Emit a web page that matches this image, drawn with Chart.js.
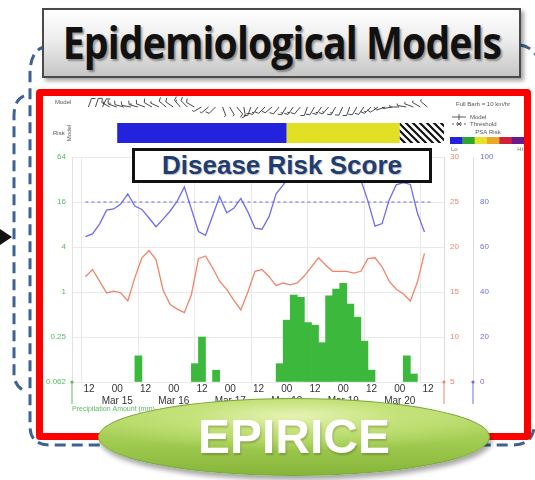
<!DOCTYPE html>
<html>
<head>
<meta charset="utf-8">
<script src="https://cdn.jsdelivr.net/npm/chart.js@4.4.1/dist/chart.umd.min.js"></script>
<style>
  body { margin: 0; width: 535px; height: 480px; position: relative; overflow: hidden; background: #fff; font-family: "Liberation Sans", Arial, sans-serif; }
  #outline { position: absolute; left: 0; top: 0; }
  #title {
    position: absolute; left: 42px; top: 8px; width: 479px; height: 70px; box-sizing: border-box;
    border: 2px solid #4a4a4a; background: linear-gradient(#ffffff, #ededed 45%, #c6c6c6);
    box-shadow: 3px 3px 4px rgba(0,0,0,.35);
    white-space: nowrap;
  }
  #title span {
    position: absolute; left: 50%; top: 0; transform: translateX(-50%) scaleX(0.89);
    font: 700 44px "Open Sans", sans-serif; letter-spacing: -1px; color: #111;
    line-height: 64px; text-shadow: 2px 2px 2px rgba(0,0,0,.35);
  }
  #panel {
    position: absolute; left: 36px; top: 89px; width: 495px; height: 351px; box-sizing: border-box;
    border: 7px solid #ff0000; border-radius: 4px; background: #fff;
  }
  #chart { position: absolute; left: 43px; top: 96px; }
  #riskBox {
    position: absolute; left: 132px; top: 148px; width: 300px; height: 35px; box-sizing: border-box;
    border: 3px solid #111; background: #fff;
    font: 700 26px "Liberation Sans", Arial, sans-serif; color: #1f3d72;
    text-align: center; line-height: 29px; text-shadow: 1px 1px 1px rgba(0,0,0,.25);
  }
  #badge {
    position: absolute; left: 98px; top: 398px; width: 392px; height: 78px; border-radius: 50%;
    border: 1px solid #78a838; box-sizing: border-box;
    background: radial-gradient(ellipse 60% 45% at 50% 22%, #e6f3b4 0%, #c4e27a 45%, rgba(196,226,122,0) 100%),
                linear-gradient(#c2e073, #a2cc52 55%, #86b53a);
    box-shadow: 2px 4px 5px rgba(0,0,0,.35);
    font: 700 48px "Liberation Sans", Arial, sans-serif; color: #fff;
    text-align: center; line-height: 76px; text-shadow: 1px 2px 2px rgba(0,0,0,.2);
  }
</style>
</head>
<body>
<svg id="outline" width="535" height="480">
  <g fill="none" stroke="#3e6392" stroke-width="3" stroke-dasharray="11 6">
    <path d="M 48 46 Q 30 48 30 74 L 30 426 Q 30 445 50 445 L 512 445 Q 532 445 534 428"/>
    <path d="M 520 45 Q 530 46 537 56"/>
    <path d="M 24 96 Q 14 100 14 116 L 14 374 Q 14 386 26 392"/>
  </g>
  <polygon points="0,229 12,237 0,245" fill="#111"/>
</svg>
<div id="title"><span>Epidemiological Models</span></div>
<div id="panel"></div>
<canvas id="chart" width="481" height="336"></canvas>
<div id="riskBox">Disease Risk Score</div>
<div id="badge">EPIRICE</div>

<script>
// hours counted from 12:00 on Mar 14
const xTickHours = [0, 12, 24, 36, 48, 60, 72, 84, 96, 108, 120, 132, 144];
const dayGridHours = [9, 33, 57, 81, 105, 129];

const lineHours = [-1.5, 1.5, 4.5, 7.5, 10.5, 13.5, 16.5, 19.5, 22.5, 25.5,
  28.5, 31.5, 34.5, 37.5, 40.5, 43.5, 46.5, 49.5, 52.5, 55.5,
  58.5, 61.5, 64.5, 67.5, 70.5, 73.5, 76.5, 79.5, 82.5, 85.5,
  88.5, 91.5, 94.5, 97.5, 100.5, 103.5, 106.5, 109.5, 112.5, 115.5,
  118.5, 121.5, 124.5, 127.5, 130.5, 133.5, 136.5, 139.5, 142.5];

const humidity = [64.6, 65.8, 70.2, 76.4, 76.9, 79.1, 83.6, 78.2, 76.7, 72.9,
  69.0, 72.4, 76.0, 80.4, 86.7, 76.9, 66.9, 65.2, 73.8, 82.4,
  75.2, 77.2, 81.6, 75.6, 68.4, 67.9, 73.5, 83.6, 87.6, 91.6,
  94.2, 93.3, 92.0, 90.9, 90.7, 92.9, 95.1, 96.0, 94.2, 89.8,
  80.4, 69.3, 70.4, 80.9, 87.6, 88.6, 87.8, 75.1, 66.7];

const temperature = [16.7, 17.5, 16.2, 14.9, 15.1, 14.9, 14.0, 16.6, 18.8, 19.6,
  18.6, 15.2, 13.6, 13.1, 12.7, 14.7, 18.7, 19.0, 17.7, 16.2,
  15.3, 14.1, 13.0, 15.0, 17.3, 17.5, 16.7, 15.7, 16.0, 15.8,
  16.0, 16.8, 17.8, 18.8, 18.0, 17.3, 17.3, 17.3, 17.1, 17.3,
  18.7, 18.8, 17.8, 16.2, 15.3, 14.8, 14.0, 16.1, 19.3];

const thresholdHours = [-1.5, 145.5];
const thresholdLevel = [80, 80];

const precipHours = [21, 45, 48, 54, 81, 84, 87, 90, 93, 96, 99, 102, 105, 108, 111, 114, 117, 120, 135, 138];
const precipMm = [0.14, 0.11, 0.25, 0.09, 0.11, 0.42, 0.91, 0.85, 0.39, 0.36, 0.21, 0.89, 1.09, 1.31, 0.69, 0.46, 0.22, 0.09, 0.14, 0.08];
const precipTicks = [0.0625, 0.25, 1, 4, 16, 64];

const riskStart = [12, 84, 132];
const riskEnd = [84, 132, 150.8];
const riskLevel = ['low', 'moderate', 'model'];

// wind barbs: direction the staff points (deg, clockwise from up) and speed in km/h
const windDir = [20, 18, 25, 300, 290, 285, 280, 285, 290, 300,
  295, 310, 305, 320, 315, 300, 240, 230, 225, 160,
  150, 140, 170, 200, 215, 225, 230, 220, 210, 215,
  220, 200, 210, 215, 220, 210, 205, 200, 210, 215,
  225, 235, 250, 260, 270, 280, 290, 300, 310];
const windSpeed = [10, 10, 10, 15, 15, 10, 10, 15, 10, 10,
  5, 10, 10, 15, 10, 10, 5, 5, 10, 5,
  5, 10, 10, 15, 15, 10, 10, 10, 15, 15,
  10, 10, 10, 15, 15, 15, 10, 10, 10, 10,
  15, 10, 10, 5, 5, 5, 5, 5, 5];

const psaColors = ['#2323dd', '#2fa52f', '#e6e028', '#e8a828', '#d0203a', '#6a1a8a'];
const riskColors = { low: '#2323dd', moderate: '#e1e024' };

const BLUE = '#6c6cee', ORANGE = '#ee8566', GREEN = '#3cb83c', GRID = '#e9e9e9';

Chart.defaults.font.family = '"Liberation Sans", Arial, sans-serif';

function tickLabel(h) {
  if (h % 24 === 12) {
    return ['00', 'Mar ' + (15 + (h - 12) / 24)];
  }
  return '12';
}

function hatch(ctx) {
  const c = document.createElement('canvas');
  c.width = 7; c.height = 7;
  const g = c.getContext('2d');
  g.strokeStyle = '#111';
  g.lineWidth = 2.2;
  g.beginPath();
  g.moveTo(-1, -1); g.lineTo(8, 8);
  g.moveTo(-1, 6); g.lineTo(1, 8);
  g.moveTo(6, -1); g.lineTo(8, 1);
  g.stroke();
  return ctx.createPattern(c, 'repeat');
}

function drawBarb(ctx, px, py, dir, speed) {
  const a = dir * Math.PI / 180;
  const len = 9;
  const ex = px + Math.sin(a) * len, ey = py - Math.cos(a) * len;
  ctx.beginPath();
  ctx.moveTo(px, py);
  ctx.lineTo(ex, ey);
  const fa = a + 1.2;
  let full = Math.floor(speed / 10);
  let half = speed % 10 >= 5 ? 1 : 0;
  let d = 0;
  while (full > 0 || half > 0) {
    const sx = ex - Math.sin(a) * d, sy = ey + Math.cos(a) * d;
    const fl = full > 0 ? 4 : 2;
    ctx.moveTo(sx, sy);
    ctx.lineTo(sx + Math.sin(fa) * fl, sy - Math.cos(fa) * fl);
    if (full > 0) full--; else half--;
    d += 2;
  }
  ctx.stroke();
}

// wind barbs, risk strip, legend and axis stubs around the plot area
const panelDecor = {
  id: 'panelDecor',
  afterDraw(chart) {
    const { ctx, chartArea: area, scales } = chart;
    const x = scales.x;
    ctx.save();

    ctx.fillStyle = '#555';
    ctx.font = '6px "Liberation Sans", Arial, sans-serif';
    ctx.textBaseline = 'middle';
    ctx.textAlign = 'left';
    ctx.fillText('Model', 12, area.top - 55);
    ctx.fillText('Risk', 10, area.top - 24);
    ctx.save();
    ctx.translate(26, area.top - 24);
    ctx.rotate(-Math.PI / 2);
    ctx.textAlign = 'center';
    ctx.fillText('Model', 0, 0);
    ctx.restore();

    ctx.strokeStyle = '#333';
    ctx.lineWidth = 0.9;
    lineHours.forEach((h, i) => {
      drawBarb(ctx, x.getPixelForValue(h) + 3, area.top - 50, windDir[i], windSpeed[i]);
    });

    const ry = area.top - 34, rh = 20;
    riskLevel.forEach((lvl, i) => {
      const x0 = x.getPixelForValue(riskStart[i]);
      const x1 = x.getPixelForValue(riskEnd[i]);
      ctx.fillStyle = lvl === 'model' ? hatch(ctx) : riskColors[lvl];
      ctx.fillRect(x0, ry, x1 - x0, rh);
    });

    // legend block, top right
    const lx = scales.yT.left + 8;
    ctx.fillStyle = '#555';
    ctx.textAlign = 'left';
    ctx.fillText('Full Barb = 10 km/hr', lx + 4, 8);
    ctx.strokeStyle = '#333';
    ctx.lineWidth = 0.8;
    ctx.beginPath();
    ctx.moveTo(lx, 21); ctx.lineTo(lx + 14, 21);
    ctx.moveTo(lx + 7, 18); ctx.lineTo(lx + 7, 24);
    ctx.stroke();
    ctx.setLineDash([2, 2]);
    ctx.beginPath();
    ctx.moveTo(lx, 28); ctx.lineTo(lx + 14, 28);
    ctx.stroke();
    ctx.setLineDash([]);
    ctx.beginPath();
    ctx.moveTo(lx + 5, 26); ctx.lineTo(lx + 9, 30);
    ctx.moveTo(lx + 9, 26); ctx.lineTo(lx + 5, 30);
    ctx.stroke();
    ctx.fillText('Model', lx + 18, 21);
    ctx.fillText('Threshold', lx + 18, 28);
    ctx.textAlign = 'center';
    ctx.fillText('PSA Risk', lx + 36, 36);
    const bw = (chart.width - lx + 2) / psaColors.length;
    psaColors.forEach((c, i) => {
      ctx.fillStyle = c;
      ctx.fillRect(lx - 2 + i * bw, 41, bw + 0.5, 7);
    });
    ctx.fillStyle = '#777';
    ctx.textAlign = 'left';
    ctx.fillText('Lo', lx - 1, 53);
    ctx.textAlign = 'right';
    ctx.fillText('Hi', chart.width - 1, 53);

    // short coloured stubs under each value axis
    const stub = (px, color) => {
      ctx.strokeStyle = color;
      ctx.fillStyle = color;
      ctx.lineWidth = 1;
      ctx.beginPath();
      ctx.moveTo(px, area.bottom);
      ctx.lineTo(px, area.bottom + 22);
      ctx.stroke();
      ctx.beginPath();
      ctx.arc(px, area.bottom, 1.6, 0, Math.PI * 2);
      ctx.fill();
    };
    stub(area.left, '#5cb85c');
    stub(scales.yT.left, ORANGE);
    stub(scales.yRH.left, BLUE);

    ctx.fillStyle = '#5cb85c';
    ctx.font = '7px "Liberation Sans", Arial, sans-serif';
    ctx.textAlign = 'left';
    ctx.fillText('Precipitation Amount (mm)', area.left, area.bottom + 27);
    ctx.restore();
  }
};

new Chart(document.getElementById('chart'), {
  type: 'bar',
  data: {
    datasets: [
      {
        type: 'line', label: 'Threshold', yAxisID: 'yRH',
        data: thresholdHours.map((h, i) => ({ x: h, y: thresholdLevel[i] })),
        borderColor: BLUE, borderWidth: 1, borderDash: [3, 3], pointRadius: 0, order: 1
      },
      {
        type: 'line', label: 'Relative humidity', yAxisID: 'yRH',
        data: lineHours.map((h, i) => ({ x: h, y: humidity[i] })),
        borderColor: BLUE, borderWidth: 1.3, pointRadius: 0, tension: 0, order: 1
      },
      {
        type: 'line', label: 'Temperature', yAxisID: 'yT',
        data: lineHours.map((h, i) => ({ x: h, y: temperature[i] })),
        borderColor: ORANGE, borderWidth: 1.3, pointRadius: 0, tension: 0, order: 1
      },
      {
        type: 'bar', label: 'Precipitation', yAxisID: 'yP',
        data: precipHours.map((h, i) => ({ x: h, y: precipMm[i] })),
        backgroundColor: GREEN, barPercentage: 1, categoryPercentage: 1,
        base: precipTicks[0], order: 3
      }
    ]
  },
  options: {
    responsive: false,
    animation: false,
    devicePixelRatio: 1,
    layout: { padding: { top: 61, left: 0, right: 0, bottom: 0 } },
    plugins: { legend: { display: false }, tooltip: { enabled: false } },
    scales: {
      x: {
        type: 'linear', min: -7.2, max: 150.8, offset: false, weight: 1,
        afterBuildTicks: s => { s.ticks = xTickHours.map(v => ({ value: v })); },
        afterFit: s => { s.height = 50; },
        grid: { display: false, drawTicks: false },
        border: { color: GRID },
        ticks: { padding: 1, color: '#333', font: { size: 10 }, autoSkip: false, maxRotation: 0, callback: v => tickLabel(v) }
      },
      xDay: {
        type: 'linear', min: -7.2, max: 150.8, offset: false, position: 'bottom', weight: 0,
        afterBuildTicks: s => { s.ticks = dayGridHours.map(v => ({ value: v })); },
        afterFit: s => { s.height = 0; },
        grid: { color: GRID, drawTicks: false },
        border: { display: false },
        ticks: { display: false }
      },
      yP: {
        type: 'logarithmic', position: 'left', min: 0.0625, max: 64,
        afterBuildTicks: s => { s.ticks = precipTicks.map(v => ({ value: v })); },
        afterFit: s => { s.width = 29; },
        grid: { color: GRID, drawTicks: false },
        border: { color: '#e2e2e2' },
        ticks: { padding: 6, color: '#5cb85c', font: { size: 8 }, callback: v => (v === 0.0625 ? '0.062' : String(v)) }
      },
      yT: {
        type: 'linear', position: 'right', weight: 1, min: 5, max: 30,
        afterFit: s => { s.width = 29; },
        grid: { drawOnChartArea: false, drawTicks: false },
        border: { color: '#dcdcdc' },
        ticks: { stepSize: 5, padding: 6, color: ORANGE, font: { size: 8 } }
      },
      yRH: {
        type: 'linear', position: 'right', weight: 2, min: 0, max: 100,
        afterFit: s => { s.width = 51; },
        grid: { drawOnChartArea: false, drawTicks: false },
        border: { color: '#dcdcdc' },
        ticks: { stepSize: 20, padding: 7, color: BLUE, font: { size: 8 } }
      }
    }
  },
  plugins: [panelDecor]
});
</script>
</body>
</html>
